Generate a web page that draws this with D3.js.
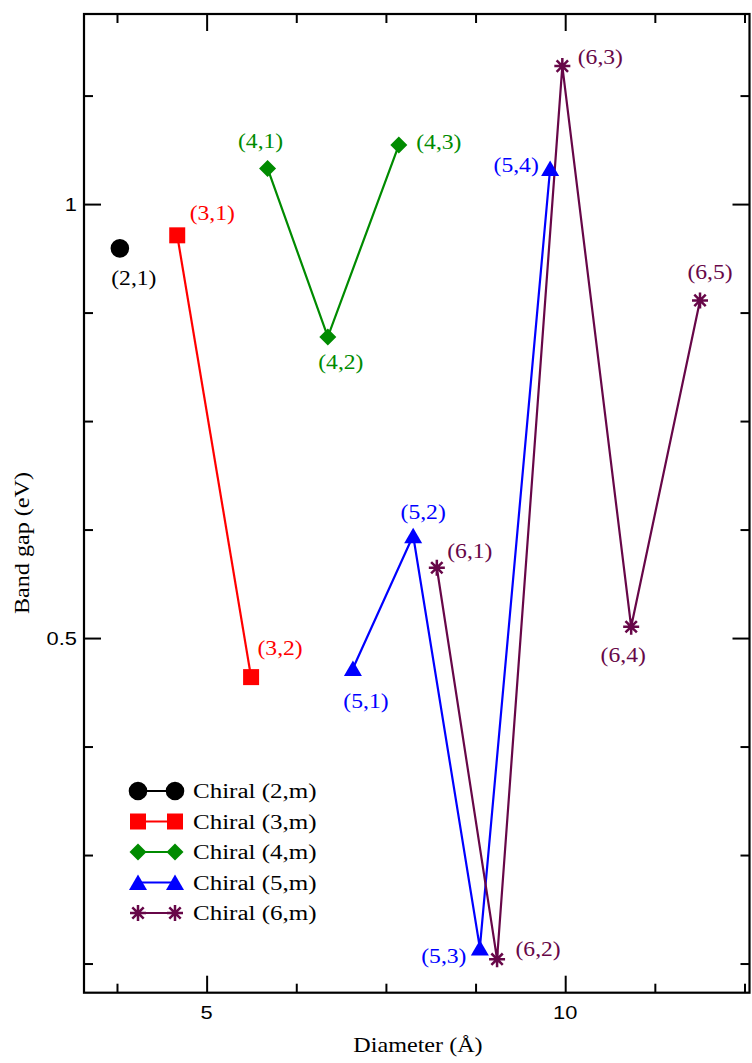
<!DOCTYPE html>
<html>
<head>
<meta charset="utf-8">
<script src="https://d3js.org/d3.v7.min.js"></script>
<style>
body { margin: 0; background: #fff; }
svg { display: block; }
</style>
</head>
<body>
<svg id="chart" width="752" height="1063"></svg>
<script>
// values
const legendLabels = ["Chiral (2,m)", "Chiral (3,m)", "Chiral (4,m)", "Chiral (5,m)", "Chiral (6,m)"];

const diam2 = [3.79],                           gap2 = [0.949];
const diam3 = [4.59, 5.62],                     gap3 = [0.964, 0.455];
const diam4 = [5.85, 6.69, 7.68],               gap4 = [1.041, 0.847, 1.068];
const diam5 = [7.04, 7.88, 8.81, 9.79],         gap5 = [0.465, 0.618, 0.143, 1.041];
const diam6 = [8.21, 9.05, 9.96, 10.92, 11.88], gap6 = [0.581, 0.130, 1.159, 0.513, 0.889];

const lab2 = ["(2,1)"];
const lab3 = ["(3,1)", "(3,2)"];
const lab4 = ["(4,1)", "(4,2)", "(4,3)"];
const lab5 = ["(5,1)", "(5,2)", "(5,3)", "(5,4)"];
const lab6 = ["(6,1)", "(6,2)", "(6,3)", "(6,4)", "(6,5)"];

const xMajor = [5, 10],   xTickLabels = ["5", "10"];
const xMinor = [3.75, 6.25, 7.5, 8.75, 11.25, 12.5];
const yMajor = [0.5, 1],  yTickLabels = ["0.5", "1"];
const yMinor = [0.125, 0.25, 0.375, 0.625, 0.75, 0.875, 1.125];

// layout
const svg = d3.select("#chart");
const pLeft = 84, pRight = 749.5, pTop = 14, pBottom = 992.7;
const x = d3.scaleLinear().domain([3.29, 12.57]).range([pLeft, pRight]);
const y = d3.scaleLinear().domain([0.0914, 1.219]).range([pBottom, pTop]);
const SX = 1.18; // text in the picture is drawn a bit wide

const colors = ["#000000", "#ff0000", "#008b00", "#0000ff", "#670748"];
const shapes = ["circle", "square", "diamond", "triangle", "star"];
// label placement next to each point (px offsets from the marker)
const labelOffsets = [
  [[14, 37]],
  [[35, -15], [29, -22]],
  [[-7, -20], [13, 32], [40, 4]],
  [[13, 40], [10, -17], [-36, 15], [-34, 4]],
  [[33, -10], [41, -3], [38, -2], [-8, 35], [10, -21]]
];

const series = [
  {d: diam2, g: gap2, l: lab2},
  {d: diam3, g: gap3, l: lab3},
  {d: diam4, g: gap4, l: lab4},
  {d: diam5, g: gap5, l: lab5},
  {d: diam6, g: gap6, l: lab6}
].map((s, i) => ({
  name: legendLabels[i], color: colors[i], shape: shapes[i],
  pts: s.d.map((v, j) => ({x: v, y: s.g[j], label: s.l[j], off: labelOffsets[i][j]}))
}));

function markerPath(shape) {
  if (shape === "circle") return d3.symbol(d3.symbolCircle, Math.PI * 9.3 * 9.3)();
  if (shape === "square") return "M-8,-8H8V8H-8Z";
  if (shape === "diamond") return "M0,-8.5L8.5,0L0,8.5L-8.5,0Z";
  if (shape === "triangle") return "M0,-8L9,7.6L-9,7.6Z";
  return "M-8,0H8M0,-8V8M-5.7,-5.7L5.7,5.7M-5.7,5.7L5.7,-5.7";
}

function drawMarker(g, shape, color, px, py) {
  const p = g.append("path")
    .attr("d", markerPath(shape))
    .attr("transform", `translate(${px},${py})`);
  if (shape === "star") p.attr("fill", "none").attr("stroke", color).attr("stroke-width", 2.5);
  else p.attr("fill", color);
}

function wideText(g, str, tx, ty, opts) {
  const rot = opts.rotate ? ` rotate(${opts.rotate})` : "";
  return g.append("text")
    .attr("transform", `translate(${tx},${ty})${rot} scale(${opts.sx || SX},1)`)
    .attr("text-anchor", opts.anchor || "start")
    .attr("font-family", opts.family || "'Liberation Serif', 'Times New Roman', serif")
    .attr("font-size", opts.size || 20)
    .attr("fill", opts.color || "#000")
    .text(str);
}

// axes (ticks pointing inward on all four sides)
function tickAxis(axisFn, scale, vals, size, transform) {
  svg.append("g")
    .attr("transform", transform)
    .call(axisFn(scale).tickValues(vals).tickSize(-size).tickFormat(""))
    .call(a => a.select(".domain").remove())
    .call(a => a.selectAll(".tick line").attr("stroke", "#000").attr("stroke-width", 2));
}
tickAxis(d3.axisBottom, x, xMajor, 17, `translate(0,${pBottom})`);
tickAxis(d3.axisBottom, x, xMinor, 9, `translate(0,${pBottom})`);
tickAxis(d3.axisTop, x, xMajor, 17, `translate(0,${pTop})`);
tickAxis(d3.axisTop, x, xMinor, 9, `translate(0,${pTop})`);
tickAxis(d3.axisLeft, y, yMajor, 17, `translate(${pLeft},0)`);
tickAxis(d3.axisLeft, y, yMinor, 9, `translate(${pLeft},0)`);
tickAxis(d3.axisRight, y, yMajor, 17, `translate(${pRight},0)`);
tickAxis(d3.axisRight, y, yMinor, 9, `translate(${pRight},0)`);

svg.append("rect")
  .attr("x", pLeft).attr("y", pTop)
  .attr("width", pRight - pLeft).attr("height", pBottom - pTop)
  .attr("fill", "none").attr("stroke", "#000").attr("stroke-width", 2.2);

const tickFont = "'Liberation Sans', Arial, sans-serif";
xMajor.forEach((v, i) => wideText(svg, xTickLabels[i], x(v), pBottom + 26, {anchor: "middle", family: tickFont, size: 19, sx: 1.15}));
yMajor.forEach((v, i) => wideText(svg, yTickLabels[i], pLeft - 7, y(v) + 7, {anchor: "end", family: tickFont, size: 19, sx: 1.15}));

wideText(svg, "Diameter (Å)", 418, 1052, {anchor: "middle", size: 21, sx: 1.15});
wideText(svg, "Band gap (eV)", 29, 543, {anchor: "middle", size: 21, sx: 1.15, rotate: -90});

// series
const line = d3.line().x(d => x(d.x)).y(d => y(d.y));
const plot = svg.append("g");
series.forEach(s => {
  if (s.pts.length > 1) {
    plot.append("path")
      .datum(s.pts)
      .attr("d", line)
      .attr("fill", "none")
      .attr("stroke", s.color)
      .attr("stroke-width", 2.2);
  }
});
series.forEach(s => {
  s.pts.forEach(p => {
    drawMarker(plot, s.shape, s.color, x(p.x), y(p.y));
    wideText(plot, p.label, x(p.x) + p.off[0], y(p.y) + p.off[1], {anchor: "middle", color: s.color, size: 20});
  });
});

// legend
const legend = svg.append("g");
series.forEach((s, i) => {
  const ly = 791 + i * 30.5;
  legend.append("line")
    .attr("x1", 138).attr("x2", 175).attr("y1", ly).attr("y2", ly)
    .attr("stroke", s.color).attr("stroke-width", 2.2);
  drawMarker(legend, s.shape, s.color, 138, ly);
  drawMarker(legend, s.shape, s.color, 175, ly);
  wideText(legend, s.name, 193, ly + 7, {size: 20, sx: 1.25});
});
</script>
</body>
</html>
